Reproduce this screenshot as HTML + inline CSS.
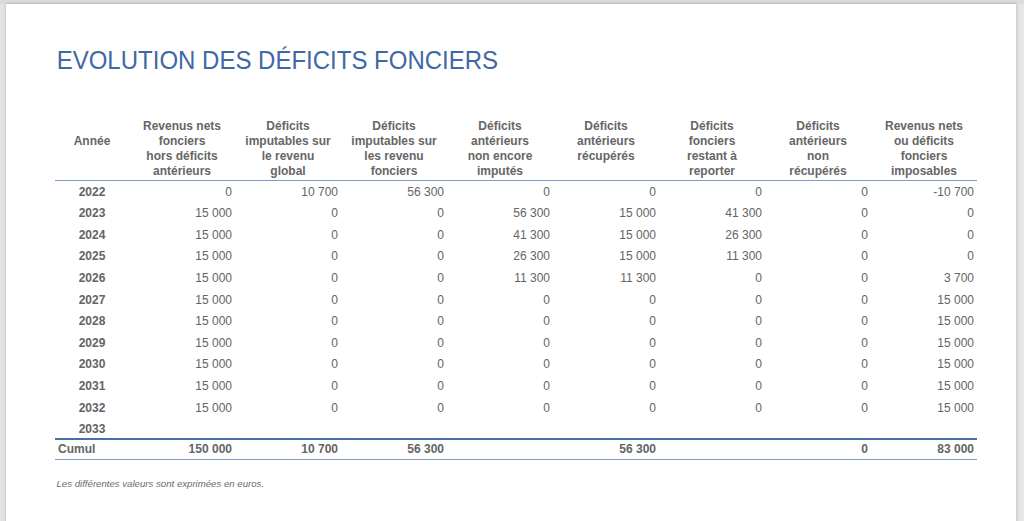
<!DOCTYPE html>
<html><head><meta charset="utf-8">
<style>
html,body{margin:0;padding:0;}
body{width:1024px;height:521px;overflow:hidden;background:#e4e4e6;position:relative;font-family:"Liberation Sans",sans-serif;}
#rb{position:absolute;left:1018px;top:0;width:6px;height:521px;background:linear-gradient(to right,#e2e2e4,#e9e9eb);}
#topb{position:absolute;left:0;top:0;width:1024px;height:4px;background:#dcdcde;}
#page{position:absolute;left:6px;top:4px;width:1010px;height:600px;background:#fff;box-shadow:0 -1px 2px rgba(0,0,0,0.10),0 0 3px rgba(0,0,0,0.16);}
h1{position:absolute;left:56.7px;top:44.5px;transform:scaleY(1.085);transform-origin:0 14.4px;margin:0;font-weight:normal;font-size:24px;line-height:30px;color:#4068a6;white-space:nowrap;}
.t{position:absolute;left:55px;width:922px;}
.hd{top:119px;height:60px;color:#666;font-weight:bold;font-size:12px;line-height:15px;}
.c{position:absolute;top:0;height:100%;box-sizing:border-box;}
.hd .c{display:flex;align-items:center;justify-content:center;text-align:center;}
.line1{position:absolute;left:55px;width:922px;top:180px;height:1px;background:#7c9ac4;}
.r{height:21.6px;font-size:12px;line-height:21.6px;color:#646464;}
.r .c{text-align:right;padding-right:3px;}
.r .c0{text-align:center;padding:0;font-weight:bold;}
.c0{left:0;width:74px;}
.c1{left:74px;width:106px;}
.c2{left:180px;width:106px;}
.c3{left:286px;width:106px;}
.c4{left:392px;width:106px;}
.c5{left:498px;width:106px;}
.c6{left:604px;width:106px;}
.c7{left:710px;width:106px;}
.c8{left:816px;width:106px;}
.line2{position:absolute;left:55px;width:922px;top:438px;height:2px;background:#4a70a8;}
.line3{position:absolute;left:55px;width:922px;top:459px;height:1px;background:#7c9ac4;}
.cu{top:440.3px;height:18px;line-height:18px;font-weight:bold;}
.cu .c0{text-align:left;padding-left:3px;}
.note{position:absolute;left:56.5px;top:478.4px;font-size:9.65px;font-style:italic;color:#6a6a6a;white-space:nowrap;}
</style></head><body>
<div id="rb"></div><div id="topb"></div><div id="page"></div>
<h1>EVOLUTION DES DÉFICITS FONCIERS</h1>
<div class="t hd">
<div class="c c0" style="align-items:flex-start;padding-top:15px">Année</div>
<div class="c c1">Revenus nets<br>fonciers<br>hors déficits<br>antérieurs</div>
<div class="c c2">Déficits<br>imputables sur<br>le revenu<br>global</div>
<div class="c c3">Déficits<br>imputables sur<br>les revenu<br>fonciers</div>
<div class="c c4">Déficits<br>antérieurs<br>non encore<br>imputés</div>
<div class="c c5" style="align-items:flex-start">Déficits<br>antérieurs<br>récupérés</div>
<div class="c c6">Déficits<br>fonciers<br>restant à<br>reporter</div>
<div class="c c7">Déficits<br>antérieurs<br>non<br>récupérés</div>
<div class="c c8">Revenus nets<br>ou déficits<br>fonciers<br>imposables</div>
</div>
<div class="line1"></div>
<div id="rows">
<div class="t r" style="top:181.50px"><div class="c c0">2022</div><div class="c c1">0</div><div class="c c2">10 700</div><div class="c c3">56 300</div><div class="c c4">0</div><div class="c c5">0</div><div class="c c6">0</div><div class="c c7">0</div><div class="c c8">-10 700</div></div>
<div class="t r" style="top:203.10px"><div class="c c0">2023</div><div class="c c1">15 000</div><div class="c c2">0</div><div class="c c3">0</div><div class="c c4">56 300</div><div class="c c5">15 000</div><div class="c c6">41 300</div><div class="c c7">0</div><div class="c c8">0</div></div>
<div class="t r" style="top:224.70px"><div class="c c0">2024</div><div class="c c1">15 000</div><div class="c c2">0</div><div class="c c3">0</div><div class="c c4">41 300</div><div class="c c5">15 000</div><div class="c c6">26 300</div><div class="c c7">0</div><div class="c c8">0</div></div>
<div class="t r" style="top:246.30px"><div class="c c0">2025</div><div class="c c1">15 000</div><div class="c c2">0</div><div class="c c3">0</div><div class="c c4">26 300</div><div class="c c5">15 000</div><div class="c c6">11 300</div><div class="c c7">0</div><div class="c c8">0</div></div>
<div class="t r" style="top:267.90px"><div class="c c0">2026</div><div class="c c1">15 000</div><div class="c c2">0</div><div class="c c3">0</div><div class="c c4">11 300</div><div class="c c5">11 300</div><div class="c c6">0</div><div class="c c7">0</div><div class="c c8">3 700</div></div>
<div class="t r" style="top:289.50px"><div class="c c0">2027</div><div class="c c1">15 000</div><div class="c c2">0</div><div class="c c3">0</div><div class="c c4">0</div><div class="c c5">0</div><div class="c c6">0</div><div class="c c7">0</div><div class="c c8">15 000</div></div>
<div class="t r" style="top:311.10px"><div class="c c0">2028</div><div class="c c1">15 000</div><div class="c c2">0</div><div class="c c3">0</div><div class="c c4">0</div><div class="c c5">0</div><div class="c c6">0</div><div class="c c7">0</div><div class="c c8">15 000</div></div>
<div class="t r" style="top:332.70px"><div class="c c0">2029</div><div class="c c1">15 000</div><div class="c c2">0</div><div class="c c3">0</div><div class="c c4">0</div><div class="c c5">0</div><div class="c c6">0</div><div class="c c7">0</div><div class="c c8">15 000</div></div>
<div class="t r" style="top:354.30px"><div class="c c0">2030</div><div class="c c1">15 000</div><div class="c c2">0</div><div class="c c3">0</div><div class="c c4">0</div><div class="c c5">0</div><div class="c c6">0</div><div class="c c7">0</div><div class="c c8">15 000</div></div>
<div class="t r" style="top:375.90px"><div class="c c0">2031</div><div class="c c1">15 000</div><div class="c c2">0</div><div class="c c3">0</div><div class="c c4">0</div><div class="c c5">0</div><div class="c c6">0</div><div class="c c7">0</div><div class="c c8">15 000</div></div>
<div class="t r" style="top:397.50px"><div class="c c0">2032</div><div class="c c1">15 000</div><div class="c c2">0</div><div class="c c3">0</div><div class="c c4">0</div><div class="c c5">0</div><div class="c c6">0</div><div class="c c7">0</div><div class="c c8">15 000</div></div>
<div class="t r" style="top:419.10px"><div class="c c0">2033</div><div class="c c1"></div><div class="c c2"></div><div class="c c3"></div><div class="c c4"></div><div class="c c5"></div><div class="c c6"></div><div class="c c7"></div><div class="c c8"></div></div>
</div><!--end-->
<div class="line2"></div>
<div class="line3"></div>
<div class="t r cu">
<div class="c c0">Cumul</div>
<div class="c c1">150 000</div>
<div class="c c2">10 700</div>
<div class="c c3">56 300</div>
<div class="c c4"></div>
<div class="c c5">56 300</div>
<div class="c c6"></div>
<div class="c c7">0</div>
<div class="c c8">83 000</div>
</div>
<div class="note">Les différentes valeurs sont exprimées en euros.</div>
</body></html>
